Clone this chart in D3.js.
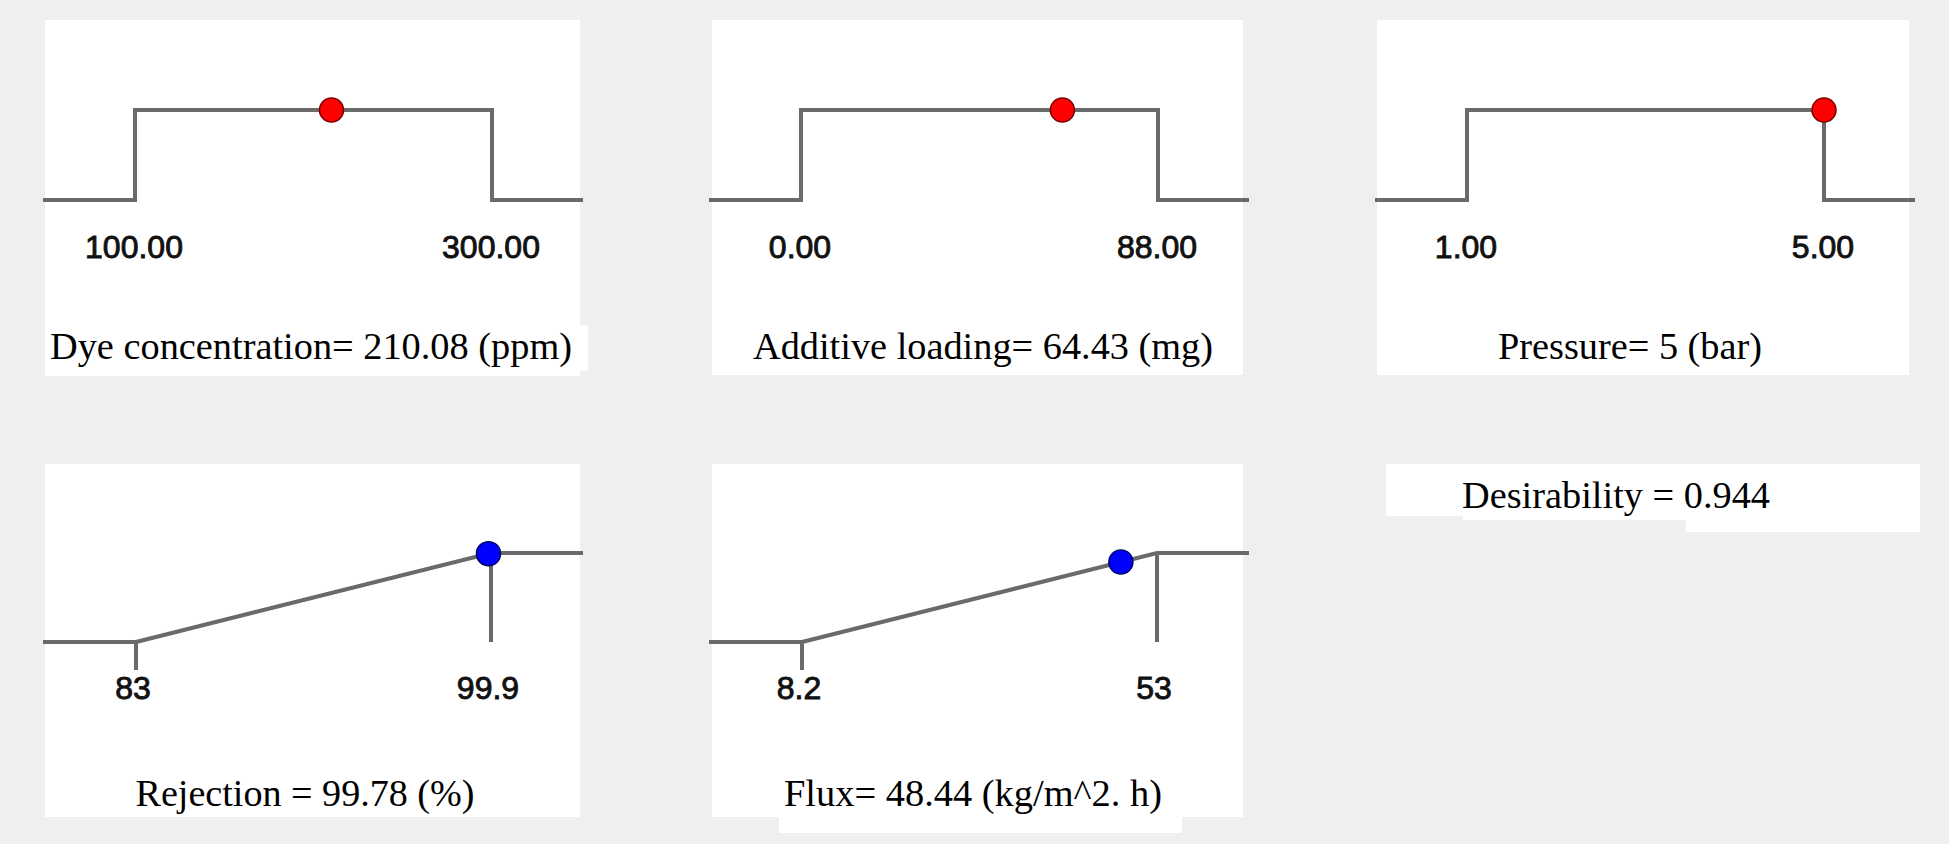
<!DOCTYPE html>
<html lang="en">
<head>
<meta charset="utf-8">
<title>Desirability ramps</title>
<script src="https://d3js.org/d3.v7.min.js"></script>
<style>
  html, body { margin: 0; padding: 0; background: #eeeff0; }
  svg { display: block; }
  .step { fill: none; stroke: #6a6a6a; stroke-width: 4; }
  .tick-label { font-family: "Liberation Sans", Arial, sans-serif; font-size: 32px; fill: #111; stroke: #111; stroke-width: 0.9; text-anchor: middle; }
  .title { font-family: "Liberation Serif", "Times New Roman", serif; font-size: 37px; fill: #000; }
</style>
</head>
<body>
<div id="chart"></div>
<script>
// factors (top row)
var factorNames = ["Dye concentration", "Additive loading", "Pressure"];
var factorLow = [100, 0, 1];
var factorHigh = [300, 88, 5];
var factorValue = [210.08, 64.43, 5];
var factorTicks = [["100.00", "300.00"], ["0.00", "88.00"], ["1.00", "5.00"]];
var factorTitles = ["Dye concentration= 210.08 (ppm)", "Additive loading= 64.43 (mg)", "Pressure= 5 (bar)"];

// responses (bottom row)
var responseNames = ["Rejection", "Flux"];
var responseLow = [83, 8.2];
var responseHigh = [99.9, 53];
var responseValue = [99.78, 48.44];
var responseTicks = [["83", "99.9"], ["8.2", "53"]];
var responseTitles = ["Rejection = 99.78 (%)", "Flux= 48.44 (kg/m^2. h)"];

var desirability = 0.944;
var desirabilityTitle = "Desirability = " + desirability;

// layout
var width = 1949, height = 844;
var colX = [45, 711, 1377];
var rowTop = [20, 464];
var topTitleX = [311, 983, 1630];
var bottomTitleX = [305, 973];
var topTitleW = [522, 460, 264];
var bottomTitleW = [339, 378];

var svg = d3.select("#chart").append("svg")
    .attr("width", width)
    .attr("height", height);

svg.append("rect")
    .attr("width", width).attr("height", height)
    .attr("fill", "#eeeff0");

var line = function(x, y) {
    return d3.line().x(function(d) { return x(d[0]); }).y(function(d) { return y(d[1]); });
};

// white backgrounds
svg.append("rect").attr("x", colX[0]).attr("y", rowTop[0]).attr("width", 535).attr("height", 356).attr("fill", "#fff");
svg.append("rect").attr("x", colX[0]).attr("y", 325).attr("width", 543).attr("height", 46).attr("fill", "#fff");
svg.append("rect").attr("x", colX[1] + 1).attr("y", rowTop[0]).attr("width", 531).attr("height", 355).attr("fill", "#fff");
svg.append("rect").attr("x", colX[2]).attr("y", rowTop[0]).attr("width", 532).attr("height", 355).attr("fill", "#fff");
svg.append("rect").attr("x", colX[0]).attr("y", rowTop[1]).attr("width", 535).attr("height", 353).attr("fill", "#fff");
svg.append("rect").attr("x", colX[1] + 1).attr("y", rowTop[1]).attr("width", 531).attr("height", 353).attr("fill", "#fff");
svg.append("rect").attr("x", 779).attr("y", 817).attr("width", 403).attr("height", 16).attr("fill", "#fff");
svg.append("rect").attr("x", 1386).attr("y", rowTop[1]).attr("width", 534).attr("height", 52).attr("fill", "#fff");
svg.append("rect").attr("x", 1686).attr("y", 516).attr("width", 234).attr("height", 16).attr("fill", "#fff");
svg.append("rect").attr("x", 1463).attr("y", 516).attr("width", 223).attr("height", 4).attr("fill", "#fff");

// factor panels: step desirability
factorNames.forEach(function(name, i) {
    var x0 = colX[i], top = rowTop[0];
    var x = d3.scaleLinear().domain([factorLow[i], factorHigh[i]]).range([x0 + 90, x0 + 447]);
    var y = d3.scaleLinear().domain([0, 1]).range([top + 180, top + 90]);
    var lo = factorLow[i], hi = factorHigh[i];
    var pts = [[x.invert(x0 - 2), 0], [lo, 0], [lo, 1], [hi, 1], [hi, 0], [x.invert(x0 + 538), 0]];

    var g = svg.append("g");
    g.append("path").attr("class", "step").attr("d", line(x, y)(pts));

    g.selectAll(".tick-label")
        .data([lo, hi])
        .enter().append("text")
        .attr("class", "tick-label")
        .attr("x", function(d) { return x(d) - 1; })
        .attr("y", top + 238)
        .text(function(d, j) { return factorTicks[i][j]; });

    g.append("circle")
        .attr("cx", x(factorValue[i]))
        .attr("cy", y(1))
        .attr("r", 12)
        .attr("fill", "#ff0000")
        .attr("stroke", "#7a0000")
        .attr("stroke-width", 1.5);

    g.append("text")
        .attr("class", "title")
        .attr("x", topTitleX[i])
        .attr("y", top + 339)
        .attr("text-anchor", "middle")
        .attr("textLength", topTitleW[i])
        .attr("lengthAdjust", "spacingAndGlyphs")
        .text(factorTitles[i]);
});

// response panels: linear ramp desirability
responseNames.forEach(function(name, i) {
    var x0 = colX[i], top = rowTop[1];
    var x = d3.scaleLinear().domain([responseLow[i], responseHigh[i]]).range([x0 + 91, x0 + 446]);
    var y = d3.scaleLinear().domain([0, 1]).range([top + 178, top + 89]);
    var lo = responseLow[i], hi = responseHigh[i];
    var g = svg.append("g");

    g.append("path").attr("class", "step")
        .attr("d", line(x, y)([[x.invert(x0 - 2), 0], [lo, 0]]));
    g.append("path").attr("class", "step")
        .attr("d", line(x, y)([[lo, 0], [hi, 1], [x.invert(x0 + 538), 1]]));
    g.append("path").attr("class", "step")
        .attr("d", line(x, y)([[hi, 1], [hi, 0]]));
    // low limit tick
    g.append("line").attr("class", "step")
        .attr("x1", x(lo)).attr("x2", x(lo))
        .attr("y1", y(0)).attr("y2", y(0) + 28);

    g.selectAll(".tick-label")
        .data([lo, hi])
        .enter().append("text")
        .attr("class", "tick-label")
        .attr("x", function(d) { return x(d) - 3; })
        .attr("y", top + 235)
        .text(function(d, j) { return responseTicks[i][j]; });

    var v = responseValue[i];
    g.append("circle")
        .attr("cx", x(v))
        .attr("cy", y((v - lo) / (hi - lo)))
        .attr("r", 12)
        .attr("fill", "#0000ff")
        .attr("stroke", "#00006e")
        .attr("stroke-width", 1.5);

    g.append("text")
        .attr("class", "title")
        .attr("x", bottomTitleX[i])
        .attr("y", top + 342)
        .attr("text-anchor", "middle")
        .attr("textLength", bottomTitleW[i])
        .attr("lengthAdjust", "spacingAndGlyphs")
        .text(responseTitles[i]);
});

// overall desirability
svg.append("text")
    .attr("class", "title")
    .attr("x", 1616)
    .attr("y", 508)
    .attr("text-anchor", "middle")
    .attr("textLength", 308)
    .attr("lengthAdjust", "spacingAndGlyphs")
    .text(desirabilityTitle);
</script>
</body>
</html>
